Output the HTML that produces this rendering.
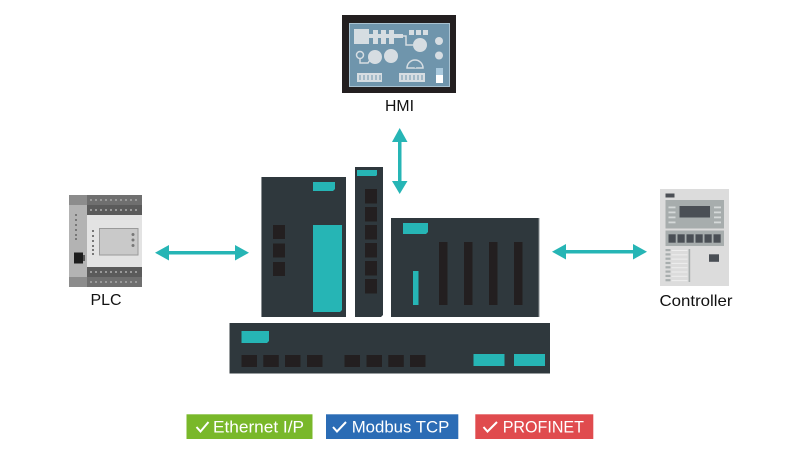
<!DOCTYPE html>
<html><head><meta charset="utf-8"><style>
html,body{margin:0;padding:0;background:#fff;width:800px;height:450px;overflow:hidden}
svg{display:block}
text{font-family:"Liberation Sans",Arial,sans-serif}
</style></head><body>
<svg width="800" height="450" viewBox="0 0 800 450" xmlns="http://www.w3.org/2000/svg">
<rect width="800" height="450" fill="#fff"/>

<!-- HMI -->
<rect x="342" y="15" width="114" height="78" fill="#231f20"/>
<rect x="349.5" y="23.5" width="100" height="63" fill="#6f95ac" stroke="#a9c3d2" stroke-width="1"/>
<g fill="#d6dde2">
  <rect x="354" y="29" width="15" height="15"/>
  <rect x="369" y="34" width="34" height="4"/>
  <rect x="373" y="30" width="5" height="14"/>
  <rect x="381" y="30" width="5" height="14"/>
  <rect x="389" y="30" width="5" height="14"/>
  <rect x="409" y="30" width="5" height="5"/>
  <rect x="416" y="30" width="5" height="5"/>
  <rect x="423" y="30" width="5" height="5"/>
  <circle cx="420" cy="45" r="7"/>
  <circle cx="375" cy="57" r="7"/>
  <circle cx="391" cy="56" r="7"/>
  <circle cx="439" cy="41" r="4"/>
  <circle cx="439" cy="55.5" r="4"/>
  <rect x="357" y="73" width="25" height="9"/>
  <rect x="399" y="73" width="26" height="9"/>
</g>
<g fill="none" stroke="#d6dde2" stroke-width="1.5">
  <polyline points="402,36 406,36 406,45 413,45"/>
  <circle cx="360" cy="55" r="3.5"/>
  <polyline points="360,58.5 360,63 368,63 370,60"/>
  <path d="M407,68 A8,8 0 0 1 423,68 Z"/>
</g>
<line x1="415" y1="68" x2="419" y2="63" stroke="#6f95ac" stroke-width="1"/>
<g stroke="#6f95ac" stroke-width="1">
  <line x1="360" y1="75" x2="360" y2="80"/><line x1="364" y1="75" x2="364" y2="80"/><line x1="368" y1="75" x2="368" y2="80"/><line x1="372" y1="75" x2="372" y2="80"/><line x1="376" y1="75" x2="376" y2="80"/><line x1="380" y1="75" x2="380" y2="80"/>
  <line x1="402" y1="75" x2="402" y2="80"/><line x1="406" y1="75" x2="406" y2="80"/><line x1="410" y1="75" x2="410" y2="80"/><line x1="414" y1="75" x2="414" y2="80"/><line x1="418" y1="75" x2="418" y2="80"/><line x1="422" y1="75" x2="422" y2="80"/>
</g>
<rect x="436" y="68" width="7" height="7" fill="#a9c9dd"/>
<rect x="436" y="75" width="7" height="8" fill="#ffffff"/>
<text x="399.5" y="111" font-size="15.5" text-anchor="middle" fill="#111" textLength="29" lengthAdjust="spacingAndGlyphs">HMI</text>

<!-- Arrows -->
<g fill="#26b5b5">
  <rect x="398" y="139" width="3.5" height="44"/>
  <polygon points="399.7,128 407.5,142 392,142"/>
  <polygon points="399.7,194 407.5,181 392,181"/>
  <rect x="166" y="251" width="72" height="3.5"/>
  <polygon points="155,252.7 169,245 169,260.5"/>
  <polygon points="249,252.7 235,245 235,260.5"/>
  <rect x="563" y="250" width="72" height="3.5"/>
  <polygon points="552,251.7 566,244 566,259.5"/>
  <polygon points="647,251.7 633,244 633,259.5"/>
</g>

<!-- PLC -->
<rect x="69" y="195" width="18" height="92" fill="#b3b3b3"/>
<rect x="69" y="195" width="18" height="10" fill="#8c8c8c"/>
<rect x="69" y="277" width="18" height="10" fill="#8c8c8c"/>
<rect x="87" y="195" width="55" height="10" fill="#6f6f6f"/>
<rect x="87" y="205" width="55" height="10" fill="#5b5b5b"/>
<rect x="87" y="215" width="55" height="52" fill="#e3e3e3"/>
<rect x="87" y="267" width="55" height="10" fill="#5b5b5b"/>
<rect x="87" y="277" width="55" height="10" fill="#6f6f6f"/>
<g fill="#9a9a9a">
  <rect x="90" y="199" width="2" height="2"/><rect x="95" y="199" width="2" height="2"/><rect x="100" y="199" width="2" height="2"/><rect x="105" y="199" width="2" height="2"/><rect x="110" y="199" width="2" height="2"/><rect x="115" y="199" width="2" height="2"/><rect x="120" y="199" width="2" height="2"/><rect x="125" y="199" width="2" height="2"/><rect x="130" y="199" width="2" height="2"/><rect x="135" y="199" width="2" height="2"/>
  <rect x="90" y="209" width="2" height="2"/><rect x="95" y="209" width="2" height="2"/><rect x="100" y="209" width="2" height="2"/><rect x="105" y="209" width="2" height="2"/><rect x="110" y="209" width="2" height="2"/><rect x="115" y="209" width="2" height="2"/><rect x="120" y="209" width="2" height="2"/><rect x="125" y="209" width="2" height="2"/><rect x="130" y="209" width="2" height="2"/><rect x="135" y="209" width="2" height="2"/>
  <rect x="90" y="271" width="2" height="2"/><rect x="95" y="271" width="2" height="2"/><rect x="100" y="271" width="2" height="2"/><rect x="105" y="271" width="2" height="2"/><rect x="110" y="271" width="2" height="2"/><rect x="115" y="271" width="2" height="2"/><rect x="120" y="271" width="2" height="2"/><rect x="125" y="271" width="2" height="2"/><rect x="130" y="271" width="2" height="2"/><rect x="135" y="271" width="2" height="2"/>
  <rect x="90" y="281" width="2" height="2"/><rect x="95" y="281" width="2" height="2"/><rect x="100" y="281" width="2" height="2"/><rect x="105" y="281" width="2" height="2"/><rect x="110" y="281" width="2" height="2"/><rect x="115" y="281" width="2" height="2"/><rect x="120" y="281" width="2" height="2"/><rect x="125" y="281" width="2" height="2"/><rect x="130" y="281" width="2" height="2"/><rect x="135" y="281" width="2" height="2"/>
</g>
<g fill="#777">
  <rect x="75" y="214" width="2" height="2"/><rect x="75" y="219" width="2" height="2"/><rect x="75" y="224" width="2" height="2"/><rect x="75" y="229" width="2" height="2"/><rect x="75" y="234" width="2" height="2"/><rect x="75" y="238" width="2" height="2"/>
  <rect x="92" y="230" width="2" height="2"/><rect x="92" y="235" width="2" height="2"/><rect x="92" y="240" width="2" height="2"/><rect x="92" y="245" width="2" height="2"/><rect x="92" y="249" width="2" height="2"/><rect x="92" y="253" width="2" height="2"/>
</g>
<rect x="99.5" y="228.5" width="38.5" height="26.5" fill="#c9c9c9" stroke="#9a9a9a" stroke-width="1"/>
<g fill="#777"><circle cx="133" cy="234.5" r="1.5"/><circle cx="133" cy="240" r="1.5"/><circle cx="133" cy="245.5" r="1.5"/></g>
<rect x="74" y="252.5" width="9" height="11" fill="#1d1d1d"/>
<rect x="83" y="255" width="2" height="6" fill="#555"/>
<text x="106" y="305" font-size="16" text-anchor="middle" fill="#111" textLength="31" lengthAdjust="spacingAndGlyphs">PLC</text>

<!-- Controller -->
<rect x="660" y="189" width="69" height="97" fill="#dcdcdc"/>
<rect x="665.5" y="193.5" width="9" height="4" fill="#4b4f55"/>
<rect x="665.5" y="200" width="58.5" height="28.5" fill="#a7adad"/>
<rect x="679.5" y="206" width="30.5" height="11.5" fill="#4a4f55"/>
<g fill="#d5d9d9">
  <rect x="668.5" y="206.5" width="7" height="1.8"/><rect x="668.5" y="211.5" width="7" height="1.8"/><rect x="668.5" y="216.5" width="7" height="1.8"/><rect x="668.5" y="221.5" width="7" height="1.8"/>
  <rect x="714" y="206.5" width="7" height="1.8"/><rect x="714" y="211.5" width="7" height="1.8"/><rect x="714" y="216.5" width="7" height="1.8"/><rect x="714" y="221.5" width="7" height="1.8"/>
</g>
<rect x="665.5" y="230.5" width="58.5" height="15.5" fill="#a7adad"/>
<g fill="#4a4f55">
  <rect x="668.5" y="234.3" width="7.2" height="8.4"/><rect x="677.5" y="234.3" width="7.2" height="8.4"/><rect x="686.5" y="234.3" width="7.2" height="8.4"/><rect x="695.5" y="234.3" width="7.2" height="8.4"/><rect x="704.5" y="234.3" width="7.2" height="8.4"/><rect x="713.5" y="234.3" width="7.2" height="8.4"/>
</g>
<g fill="#a7adad">
  <rect x="665.5" y="249" width="5" height="2.2"/><rect x="665.5" y="253.3" width="5" height="2.2"/><rect x="665.5" y="257.6" width="5" height="2.2"/><rect x="665.5" y="261.9" width="5" height="2.2"/><rect x="665.5" y="266.2" width="5" height="2.2"/><rect x="665.5" y="270.5" width="5" height="2.2"/><rect x="665.5" y="274.8" width="5" height="2.2"/><rect x="665.5" y="279.1" width="5" height="2.2"/>
  <rect x="688.6" y="249" width="1.6" height="33"/>
</g>
<g fill="#eeeeee">
  <rect x="671.5" y="250" width="16" height="1"/><rect x="671.5" y="254.3" width="16" height="1"/><rect x="671.5" y="258.6" width="16" height="1"/><rect x="671.5" y="262.9" width="16" height="1"/><rect x="671.5" y="267.2" width="16" height="1"/><rect x="671.5" y="271.5" width="16" height="1"/><rect x="671.5" y="275.8" width="16" height="1"/><rect x="671.5" y="280.1" width="16" height="1"/>
</g>
<rect x="709" y="254.3" width="10" height="7.5" fill="#4a4f55"/>
<text x="696" y="306" font-size="16" text-anchor="middle" fill="#111" textLength="73" lengthAdjust="spacingAndGlyphs">Controller</text>

<!-- Central modules -->
<!-- left module -->
<rect x="261" y="177" width="85" height="140" fill="#2f383d"/>
<rect x="261" y="177" width="1" height="140" fill="#8a8f92"/>
<polygon points="313,182 335,182 335,189 333,191 313,191" fill="#26b5b5"/>
<g fill="#231f20">
  <rect x="273" y="225" width="12" height="14"/>
  <rect x="273" y="243.5" width="12" height="14"/>
  <rect x="273" y="262" width="12" height="14"/>
</g>
<polygon points="313,225 342,225 342,310 340,312 313,312" fill="#26b5b5"/>

<!-- slim module -->
<polygon points="355,167 383,167 383,315 381,317 355,317" fill="#2f383d"/>
<polygon points="357,170 377,170 377,175 376,176 357,176" fill="#26b5b5"/>
<g fill="#231f20">
  <rect x="365" y="189" width="12" height="14.5"/>
  <rect x="365" y="207" width="12" height="14.5"/>
  <rect x="365" y="225" width="12" height="14.5"/>
  <rect x="365" y="243" width="12" height="14.5"/>
  <rect x="365" y="261" width="12" height="14.5"/>
  <rect x="365" y="279" width="12" height="14.5"/>
</g>

<!-- right module -->
<rect x="391" y="218" width="148" height="99" fill="#2f383d"/>
<rect x="538.5" y="218" width="1" height="99" fill="#8a8f92"/>
<polygon points="403,223 428,223 428,232 426,234 403,234" fill="#26b5b5"/>
<rect x="413" y="271" width="5.5" height="34" fill="#26b5b5"/>
<g fill="#231f20">
  <rect x="439" y="242" width="8.5" height="63"/>
  <rect x="464" y="242" width="8.5" height="63"/>
  <rect x="489" y="242" width="8.5" height="63"/>
  <rect x="514" y="242" width="8.5" height="63"/>
</g>

<!-- bottom module -->
<rect x="229" y="323" width="321" height="50.5" fill="#2f383d"/>
<rect x="229" y="323" width="1" height="50.5" fill="#9a9ea0"/>
<polygon points="241.5,331 269,331 269,341 267,343 241.5,343" fill="#26b5b5"/>
<g fill="#231f20">
  <rect x="241.5" y="355" width="15.5" height="12"/>
  <rect x="263.3" y="355" width="15.5" height="12"/>
  <rect x="285" y="355" width="15.5" height="12"/>
  <rect x="307" y="355" width="15.5" height="12"/>
  <rect x="344.5" y="355" width="15.5" height="12"/>
  <rect x="366.5" y="355" width="15.5" height="12"/>
  <rect x="388.3" y="355" width="15.5" height="12"/>
  <rect x="410" y="355" width="15.5" height="12"/>
</g>
<rect x="473.5" y="354" width="31" height="12" fill="#26b5b5"/>
<rect x="514" y="354" width="31" height="12" fill="#26b5b5"/>

<!-- Badges -->
<rect x="186.5" y="414.3" width="126" height="24.7" fill="#79b82a"/>
<polyline points="196.5,427 200.5,431.5 208.5,422" fill="none" stroke="#fff" stroke-width="2"/>
<text x="213" y="432.5" font-size="17" fill="#fff" textLength="91" lengthAdjust="spacingAndGlyphs">Ethernet I/P</text>

<rect x="326" y="414.3" width="132.3" height="24.7" fill="#2b6cb5"/>
<polyline points="333,427 337,431.5 346,422" fill="none" stroke="#fff" stroke-width="2"/>
<text x="351.7" y="432.5" font-size="17" fill="#fff" textLength="97.6" lengthAdjust="spacingAndGlyphs">Modbus TCP</text>

<rect x="475.3" y="414.3" width="118" height="24.7" fill="#e04b4e"/>
<polyline points="483.5,427 487.5,431.5 497,422" fill="none" stroke="#fff" stroke-width="2"/>
<text x="502.7" y="432.5" font-size="17" fill="#fff" textLength="81.3" lengthAdjust="spacingAndGlyphs">PROFINET</text>
</svg>
</body></html>
